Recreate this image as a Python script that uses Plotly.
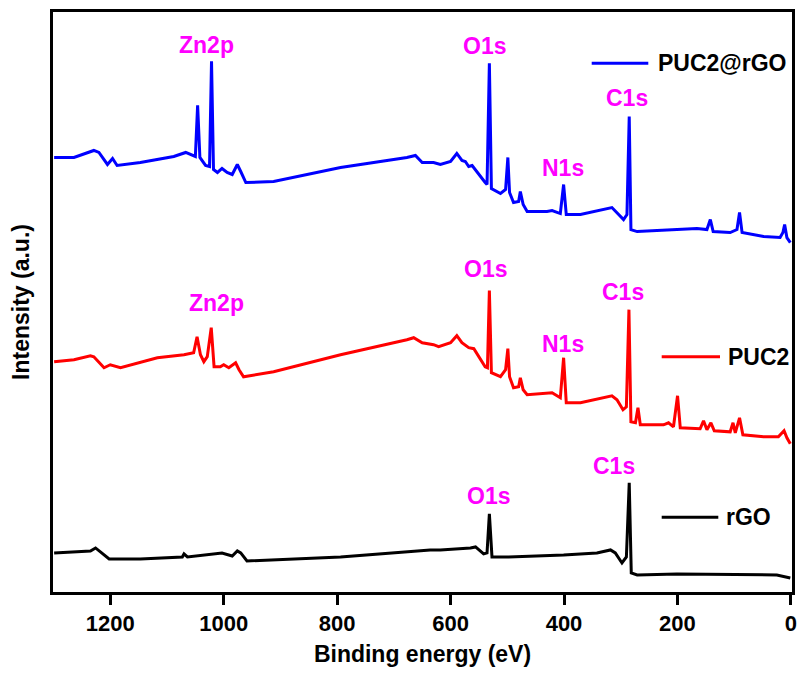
import plotly.graph_objects as go

# Binding energy (eV) and intensity (a.u.)
E_puc2rgo = [1299, 1264, 1229, 1220, 1205, 1196, 1188, 1147, 1088, 1067, 1050, 1046, 1042, 1032, 1025,
             1021.5, 1018, 1011, 1003, 994, 985, 976, 970, 961, 912, 794, 677, 662, 650, 630, 618, 600,
             589, 580, 574, 568, 562, 553, 539, 535.7, 531.6, 528, 512, 503, 499, 496, 489, 480, 477,
             472, 465, 430, 421, 406.5, 400.7, 396, 371, 315.5, 306.6, 295, 289, 285, 282, 271, 165.6,
             148, 142, 137, 107, 95, 90.5, 86, 48, 19, 14, 11, 7, 1]
I_puc2rgo = [434, 434, 441, 439, 427, 433, 426, 429, 435, 439, 435, 486, 434, 426, 425,
             530, 422, 419, 423, 419, 417, 427, 420, 409, 410, 424, 434, 436, 429, 429, 427, 430,
             438, 431, 430, 425, 426, 419, 409, 407, 528, 403, 398, 402, 434, 399, 389, 390, 400,
             387, 380, 380, 381, 378, 407, 377, 377, 384, 379, 372, 377, 475, 362, 360, 363,
             362, 372, 360, 359, 362, 379, 359, 355, 354, 359, 367, 354, 349]

E_puc2 = [1299, 1264, 1235, 1229, 1211, 1200, 1182, 1117, 1070, 1053, 1047, 1041, 1035, 1029, 1022,
          1017, 1006, 1000, 991, 979, 973, 965, 912, 794, 677, 665, 650, 630, 621, 600, 589, 580,
          568, 559, 539, 535, 531.6, 528, 512, 503, 499, 496, 489, 480, 477, 472, 465, 430, 421,
          406.5, 400.7, 396, 371, 315.5, 306.6, 296, 290, 285.5, 282, 274, 269.6, 265.5, 224.5,
          215.7, 207, 199.8, 195, 160, 154, 148, 141, 135, 107, 102, 98, 90.5, 84.6, 48, 22, 12, 7, 1]
I_puc2 = [230, 232, 236, 235, 224, 227, 224, 234, 237, 239, 255, 237, 230, 235, 264,
          225, 225, 227, 224, 229, 222, 215, 220, 237, 252, 254, 249, 247, 245, 249, 256, 249,
          244, 243, 225, 224, 301, 219, 215, 222, 243, 215, 204, 205, 214, 202, 197, 198, 199,
          194, 234, 189, 189, 196, 192, 182, 185, 282, 170, 169, 184, 167, 167,
          169, 165, 196, 164, 163, 171, 162, 169, 161, 160, 169, 159, 174, 157, 155, 155, 161, 154, 148]

E_rgo = [1299, 1235, 1226, 1217, 1202, 1147, 1073, 1070, 1064, 1003, 985, 976, 970, 959, 794, 636,
         618, 565, 556, 541.7, 535.7, 531.6, 527, 497.6, 400.7, 342, 318, 309.6, 297.8, 290, 285,
         281.4, 271, 201, 24.7, 1]
I_rgo = [39, 41, 44, 40, 33, 33, 35, 38, 35, 39, 36, 41, 39, 31, 35, 42,
         42, 44, 45, 38, 39, 78, 35, 35, 37, 39, 42, 39, 29, 35, 109,
         19, 17, 18, 17, 14]

series_names = ["PUC2@rGO", "PUC2", "rGO"]
series_colors = ["#0000FF", "#FF0000", "#000000"]

# Peak labels: (text, energy, intensity)
peak_labels = [
    ("Zn2p", 1029.5, 546), ("O1s", 540.7, 545), ("N1s", 401.4, 423), ("C1s", 288.6, 493),
    ("Zn2p", 1013, 289), ("O1s", 539, 323), ("N1s", 401.4, 248), ("C1s", 296.5, 300),
    ("O1s", 534, 96), ("C1s", 311.5, 126),
]

x_ticks = [1200, 1000, 800, 600, 400, 200, 0]

FONT = "Liberation Sans, Arial, sans-serif"
W, H = 798, 673
ML, MR, MT, MB = 53, 6, 12, 81
PW, PH = W - ML - MR, H - MT - MB


def px2paper(px, py):
    return (px - ML) / PW, (H - MB - py) / PH


# legend key layout (pixels): line start, line end, text start, y centre
legend_keys = [(591.7, 648.3, 655.5, 63.3), (661.7, 720.0, 725.5, 356.7), (661.7, 718.3, 724.0, 517.3)]

fig = go.Figure()
data = [(E_puc2rgo, I_puc2rgo), (E_puc2, I_puc2), (E_rgo, I_rgo)]
for (ex, iy), name, col, key in zip(data, series_names, series_colors, legend_keys):
    fig.add_trace(go.Scatter(x=ex, y=iy, mode="lines", name=name,
                             line=dict(color=col, width=3), showlegend=False))
    x0, yk = px2paper(key[0], key[3])
    x1, _ = px2paper(key[1], key[3])
    xt, _ = px2paper(key[2], key[3])
    fig.add_shape(type="line", xref="paper", yref="paper", x0=x0, x1=x1, y0=yk, y1=yk,
                  line=dict(color=col, width=3))
    fig.add_annotation(xref="paper", yref="paper", x=xt, y=yk, text=name, showarrow=False,
                       xanchor="left", yanchor="middle",
                       font=dict(family=FONT, size=23, color="#000000", weight="bold"))

for txt, ex, iy in peak_labels:
    fig.add_annotation(x=ex, y=iy, text=txt, showarrow=False,
                       font=dict(family=FONT, size=23, color="#FF00FF", weight="bold"),
                       xanchor="center", yanchor="middle")

fig.update_layout(
    width=W, height=H,
    margin=dict(l=ML, r=MR, t=MT, b=MB),
    paper_bgcolor="white", plot_bgcolor="white",
    showlegend=False,
    xaxis=dict(range=[1301, -2], tickvals=x_ticks, ticks="outside", ticklen=10, tickwidth=3,
               tickcolor="black", showline=True, linewidth=3, linecolor="black", mirror=True,
               showgrid=False, zeroline=False, automargin=False,
               tickfont=dict(family=FONT, size=22, color="black", weight="bold"),
               title=dict(text="Binding energy (eV)", standoff=11,
                          font=dict(family=FONT, size=23, color="black", weight="bold"))),
    yaxis=dict(range=[0, 579.3], showticklabels=False, ticks="", showline=True, linewidth=3,
               linecolor="black", mirror=True, showgrid=False, zeroline=False, automargin=False,
               title=dict(text="Intensity (a.u.)", standoff=14,
                          font=dict(family=FONT, size=23, color="black", weight="bold"))),
)

fig.write_html("out.html")
